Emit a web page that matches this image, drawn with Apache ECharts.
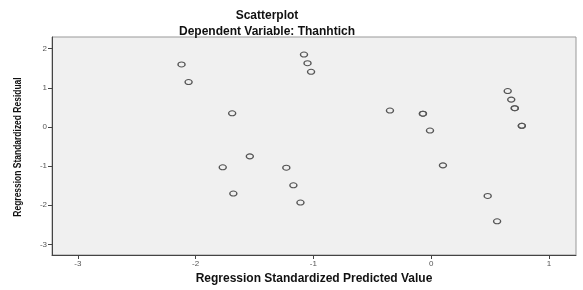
<!DOCTYPE html>
<html><head><meta charset="utf-8">
<script src="https://cdn.jsdelivr.net/npm/echarts@6/dist/echarts.min.js"></script>
<style>html,body{margin:0;padding:0;background:#fff}#c{width:583px;height:290px}</style>
</head><body><div id="c"></div>
<script>
const titleText = "Scatterplot";
const subtitleText = "Dependent Variable: Thanhtich";
const xName = "Regression Standardized Predicted Value";
const yName = "Regression Standardized Residual";
const xTicks = [-3, -2, -1, 0, 1];
const yTicks = [-3, -2, -1, 0, 1, 2];
const predicted = [-2.12, -2.06, -1.08, -1.05, -1.02, -1.69, -1.54, -1.77, -1.23, -1.17, -1.68, -1.11,
  -0.35, -0.07, -0.07, -0.01, 0.10, 0.48, 0.56, 0.65, 0.68, 0.71, 0.71, 0.77, 0.77];
const residual = [1.60, 1.15, 1.85, 1.63, 1.41, 0.35, -0.75, -1.03, -1.04, -1.49, -1.70, -1.93,
  0.42, 0.34, 0.34, -0.09, -0.98, -1.76, -2.41, 0.92, 0.70, 0.48, 0.48, 0.03, 0.03];

const data = predicted.map((x, i) => [x, residual[i]]);
const chart = echarts.init(document.getElementById('c'));
const lblFont = {fontFamily: 'Liberation Sans, Arial, sans-serif', fontSize: 8, color: '#555'};
chart.setOption({
  animation: false,
  title: [
    {text: titleText, left: 262, top: 5, textAlign: 'center',
     textStyle: {fontFamily: 'Liberation Sans, Arial, sans-serif', fontWeight: 'bold', fontSize: 12, color: '#111'}},
    {text: subtitleText, left: 262, top: 21, textAlign: 'center',
     textStyle: {fontFamily: 'Liberation Sans, Arial, sans-serif', fontWeight: 'bold', fontSize: 12, color: '#111'}}
  ],
  graphic: [{
    type: 'text', x: 18, y: 147, rotation: Math.PI / 2, scaleX: 0.77,
    style: {text: yName, align: 'center', verticalAlign: 'middle',
      font: 'bold 11px "Liberation Sans", Arial, sans-serif', fill: '#111'}
  }],
  grid: {left: 52, right: 7, top: 37, bottom: 35, show: true, backgroundColor: '#f0f0f0', borderColor: '#999', borderWidth: 1},
  xAxis: {
    type: 'value', min: -3.22, max: 1.23,
    name: xName, nameLocation: 'middle', nameGap: 18,
    nameTextStyle: {fontFamily: 'Liberation Sans, Arial, sans-serif', fontWeight: 'bold', fontSize: 12, color: '#111'},
    axisLine: {show: true, onZero: false, lineStyle: {color: '#444'}},
    axisTick: {show: true, length: 4, customValues: xTicks, lineStyle: {color: '#444'}},
    axisLabel: Object.assign({customValues: xTicks, margin: 5}, lblFont),
    splitLine: {show: false}
  },
  yAxis: {
    type: 'value', min: -3.27, max: 2.30,
    axisLine: {show: true, onZero: false, lineStyle: {color: '#444'}},
    axisTick: {show: true, length: 4, customValues: yTicks, lineStyle: {color: '#444'}},
    axisLabel: Object.assign({customValues: yTicks, margin: 5}, lblFont),
    splitLine: {show: false}
  },
  series: [{
    type: 'scatter', data: data, symbol: 'circle', symbolSize: [7, 5],
    itemStyle: {color: 'rgba(0,0,0,0)', borderColor: '#555', borderWidth: 1.2, opacity: 1}
  }]
});
</script></body></html>
